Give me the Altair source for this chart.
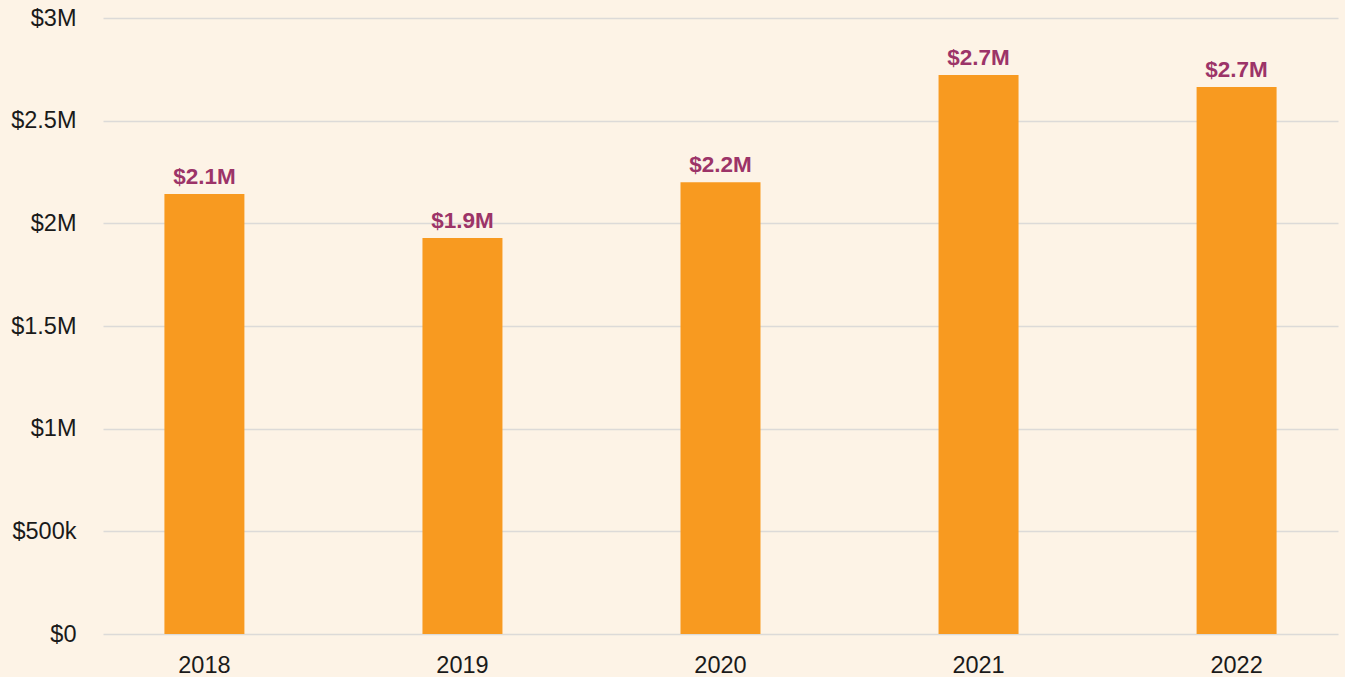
import altair as alt
import pandas as pd

years = ["2018", "2019", "2020", "2021", "2022"]
values = [2143000, 1929000, 2200000, 2723000, 2664000]
y_ticks = [0, 500000, 1000000, 1500000, 2000000, 2500000, 3000000]

df = pd.DataFrame({"year": years, "value": values})

FONT = "Liberation Sans"
BG = "#fdf3e6"

x = alt.X("year:N", title=None,
          scale=alt.Scale(paddingInner=0.69, paddingOuter=0.238),
          axis=alt.Axis(labelAngle=0, labelFontSize=23.5, labelColor="#1a1a1a",
                        labelFont=FONT, labelPadding=19, ticks=False, domain=False,
                        grid=False))
y = alt.Y("value:Q", title=None,
          scale=alt.Scale(domain=[0, 3000000]),
          axis=alt.Axis(values=y_ticks,
                        labelExpr="datum.value == 0 ? '$0' : (datum.value < 1000000 ? '$' + datum.value/1000 + 'k' : '$' + datum.value/1000000 + 'M')",
                        labelFontSize=23.5, labelColor="#1a1a1a", labelFont=FONT,
                        labelPadding=27, ticks=False, domain=False,
                        grid=True, gridColor="#dcdad8", gridWidth=1.5))

base = alt.Chart(df).encode(x=x, y=y)

bars = base.mark_bar(color="#f89a20")
text = base.transform_calculate(
    lbl="'$' + format(datum.value/1000000, '.1f') + 'M'"
).mark_text(baseline="bottom", dy=-5, fontSize=22.5, fontWeight="bold",
            font=FONT, color="#9c3468").encode(text="lbl:N")

chart = (bars + text).properties(
    width=1235, height=616,
    background=BG,
    padding={"left": 103, "top": 18, "right": 7, "bottom": 43},
    autosize=alt.AutoSizeParams(type="none"),
).configure_view(stroke=None)

chart.save("out.html", embed_options={"renderer": "svg", "actions": False})

with open("out.html", "r", encoding="utf-8") as f:
    html = f.read()
html = html.replace("<body>", '<body style="margin:0;overflow:hidden;background:%s">' % BG, 1)
with open("out.html", "w", encoding="utf-8") as f:
    f.write(html)
